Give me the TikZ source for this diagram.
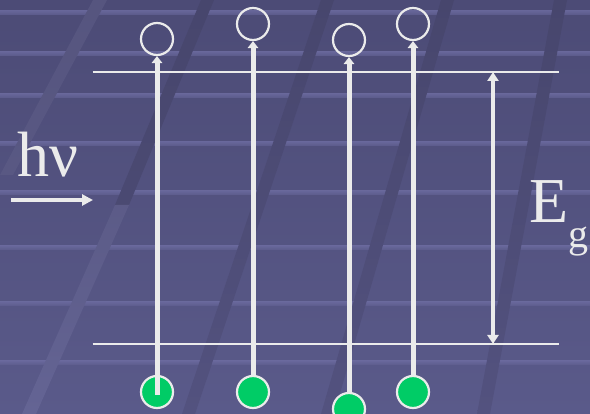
\documentclass[tikz,border=0pt]{standalone}
\usepackage{fontspec}
\setmainfont{Liberation Serif}
\usetikzlibrary{arrows.meta}

\definecolor{bgtop}{HTML}{4C4B76}
\definecolor{bgbot}{HTML}{5A5A8A}
\definecolor{stripecol}{HTML}{6E6DA2}
\definecolor{darktop}{HTML}{47466D}
\definecolor{darkbot}{HTML}{53527F}
\definecolor{lighttop}{HTML}{56557F}
\definecolor{lightbot}{HTML}{646494}
\definecolor{ink}{HTML}{EBEBEB}
\definecolor{carrier}{HTML}{00CC66}

\tikzset{
  level/.style={draw=ink, line width=2.2pt},
  pump/.style={draw=ink, line width=5pt,
    -{Triangle[width=10.5pt,length=7pt]}},
  gap/.style={draw=ink, line width=3.8pt,
    {Triangle[width=11pt,length=9pt]}-{Triangle[width=11pt,length=9pt]}},
  photon/.style={draw=ink, line width=4.2pt,
    -{Triangle[width=11pt,length=11pt]}},
  hole/.style={circle, draw=ink, line width=2.2pt, fill=none,
    minimum size=32pt, inner sep=0pt},
  electron/.style={circle, draw=ink, line width=2.2pt, fill=carrier,
    minimum size=32pt, inner sep=0pt},
  big/.style={text=ink, inner sep=0pt, font=\fontsize{64}{64}\selectfont},
  small/.style={text=ink, inner sep=0pt, font=\fontsize{40}{40}\selectfont},
}

\begin{document}
\begin{tikzpicture}[x=1pt, y=-1pt]
  \useasboundingbox (0,0) rectangle (590,414);

  % backdrop: vertical gradient with soft horizontal stripes
  \shade[top color=bgtop, bottom color=bgbot] (0,0) rectangle (590,414);
  \foreach \yy in {12,53,95,143,192,247,303,362}
    \shade[top color=stripecol, bottom color=stripecol!30!bgbot, opacity=0.8]
      (0,\yy-1.5) rectangle (590,\yy+2.5);

  % slanted decorative bands
  \shade[top color=lighttop, bottom color=lighttop!80!lightbot]
    (93,0) -- (107,0) -- (13,175) -- (0,175) -- cycle;
  \shade[top color=darktop, bottom color=darktop!70!darkbot]
    (201,0) -- (214,0) -- (129,205) -- (115,205) -- cycle;
  \shade[top color=lighttop!60!lightbot, bottom color=lightbot]
    (115,205) -- (129,205) -- (36,414) -- (22,414) -- cycle;
  \shade[top color=darktop, bottom color=darkbot]
    (321,0) -- (334,0) -- (195,414) -- (182,414) -- cycle;
  \shade[top color=darktop, bottom color=darkbot]
    (441,0) -- (454,0) -- (334,414) -- (321,414) -- cycle;
  \shade[top color=darktop, bottom color=darkbot]
    (554,0) -- (567,0) -- (490,414) -- (477,414) -- cycle;

  % band edges
  \coordinate (cbL) at (92.5,72);
  \coordinate (cbR) at (559,72);
  \coordinate (vbL) at (92.5,344);
  \coordinate (vbR) at (559,344);
  \draw[level] (cbL) -- (cbR);
  \draw[level] (vbL) -- (vbR);

  % holes left in the valence band / electrons lifted to the conduction band
  \node[hole] (h1) at (157,39) {};
  \node[hole] (h2) at (253,24) {};
  \node[hole] (h3) at (349,40) {};
  \node[hole] (h4) at (413,24) {};

  \node[electron] (e1) at (157,392) {};
  \node[electron] (e2) at (253,392) {};
  \node[electron] (e3) at (349,409) {};
  \node[electron] (e4) at (413,392) {};

  % excitation arrows
  \draw[pump] ([yshift=-3pt]e1.center) -- (h1.south);
  \draw[pump] (e2.north) -- (h2.south);
  \draw[pump] (e3.north) -- (h3.south);
  \draw[pump] (e4.north) -- (h4.south);

  % band gap
  \coordinate (gT) at (493,72);
  \coordinate (gB) at (493,344);
  \draw[gap] (gT) -- (gB);
  \node[big, anchor=base west] (E) at (529,223) {E};
  \node[small, anchor=base west] (g) at (568,248) {g};

  % incoming photon
  \node[big, anchor=base west] (hnu) at (17,177) {hν};
  \coordinate (pA) at (11,200);
  \coordinate (pB) at (93,200);
  \draw[photon] (pA) -- (pB);
\end{tikzpicture}
\end{document}
